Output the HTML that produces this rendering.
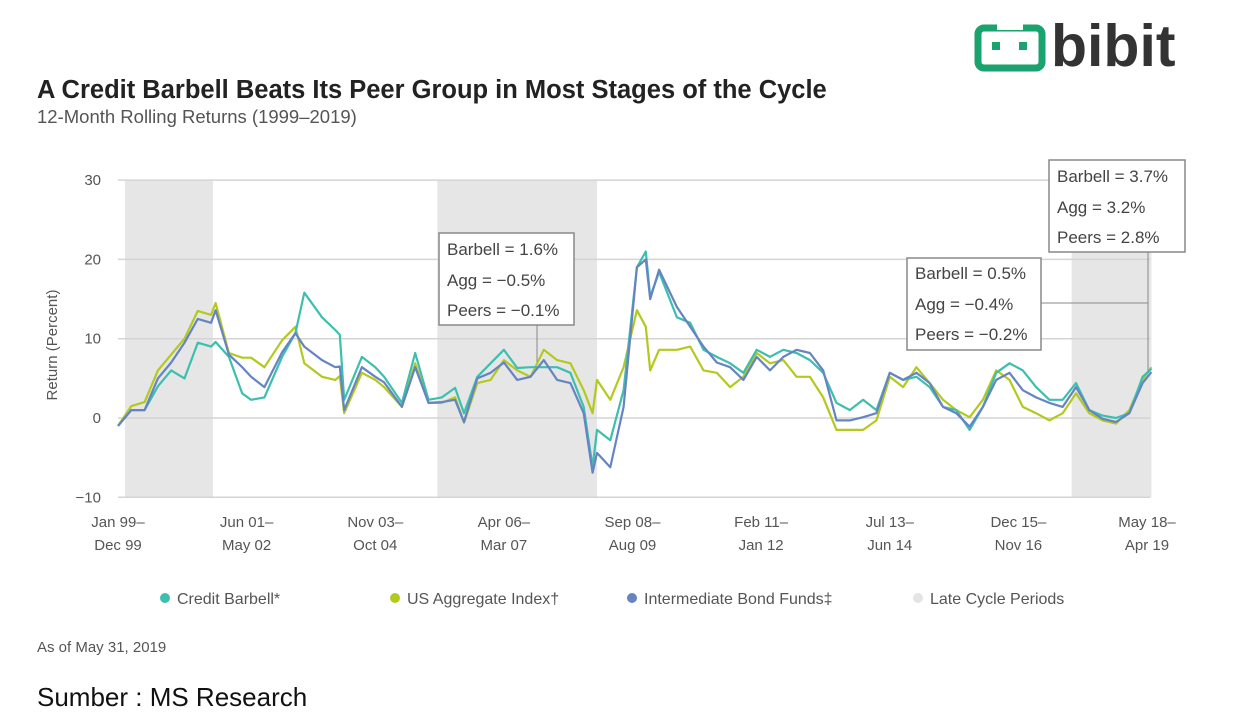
<!DOCTYPE html>
<html><head><meta charset="utf-8"><style>
body{margin:0;width:1233px;height:722px;background:#fff;overflow:hidden;font-family:"Liberation Sans",sans-serif;}
svg text{font-family:"Liberation Sans",sans-serif;}
</style></head><body>
<svg id="chart" width="1233" height="722">
<g>
<rect x="978" y="28" width="64" height="40" rx="6" fill="none" stroke="#1aa36f" stroke-width="7"/>
<rect x="997" y="24" width="26" height="6" fill="#fff"/>
<rect x="992" y="42" width="8" height="8" fill="#1aa36f"/><rect x="1019" y="42" width="8" height="8" fill="#1aa36f"/>
<text x="1051" y="66" font-size="59" font-weight="bold" fill="#333">bibit</text>
</g>
<text x="37" y="98" font-size="25.5" font-weight="bold" fill="#222">A Credit Barbell Beats Its Peer Group in Most Stages of the Cycle</text>
<text x="37" y="123" font-size="18.5" fill="#555">12-Month Rolling Returns (1999–2019)</text>
<g id="shade"></g><g id="grid"></g><g id="xlab"></g><g id="lines"></g>
<text transform="translate(57,345) rotate(-90)" text-anchor="middle" font-size="15" fill="#555">Return (Percent)</text>
<g font-size="17" fill="#444">
<line x1="537" y1="325" x2="537" y2="362" stroke="#888"/>
<rect x="439" y="233" width="135" height="92" fill="#fff" stroke="#888" stroke-width="1.5"/>
<text x="447" y="255">Barbell = 1.6%</text><text x="447" y="286">Agg = −0.5%</text><text x="447" y="316">Peers = −0.1%</text></g>
<g font-size="17" fill="#444">
<line x1="1148" y1="252" x2="1148" y2="372" stroke="#888"/><line x1="1041" y1="303" x2="1148" y2="303" stroke="#888"/>
<rect x="907" y="258" width="134" height="92" fill="#fff" stroke="#888" stroke-width="1.5"/>
<text x="915" y="279">Barbell = 0.5%</text><text x="915" y="310">Agg = −0.4%</text><text x="915" y="340">Peers = −0.2%</text>
<rect x="1049" y="160" width="136" height="92" fill="#fff" stroke="#888" stroke-width="1.5"/>
<text x="1057" y="182">Barbell = 3.7%</text><text x="1057" y="213">Agg = 3.2%</text><text x="1057" y="243">Peers = 2.8%</text></g>
<g id="legend" font-size="16" fill="#555"></g>
<text x="37" y="652" font-size="15" fill="#555">As of May 31, 2019</text>
<text x="37" y="706" font-size="26" fill="#111">Sumber : MS Research</text>
</svg>
<script>
const months=[0,3,6,9,12,15,18,21,22,25,28,30,33,37,40,42,46,49,50,51,55,58,60,64,67,70,73,76,78,81,84,87,90,93,96,99,102,105,107,108,111,114,117,119,120,122,126,129,132,135,138,141,144,147,150,153,156,159,162,165,168,171,174,177,180,183,186,189,192,195,198,201,204,207,210,213,216,219,222,225,228,231,233];
const barbell=[-1,1,1,4,6,5,9.5,9,9.6,7.7,3.1,2.3,2.6,7.7,10.7,15.8,12.7,11.1,10.5,2.3,7.7,6.4,5.2,1.9,8.2,2.3,2.6,3.8,0.6,5.2,6.9,8.6,6.3,6.4,6.4,6.4,5.7,1.4,-6.2,-1.5,-2.8,3.5,19,21,15.3,18.4,12.7,12,8.6,7.7,6.9,5.7,8.6,7.7,8.6,8.2,7.3,5.7,1.9,1,2.3,1,5.7,4.8,5.2,3.9,1.4,1,-1.5,1.4,5.7,6.9,6,3.9,2.3,2.3,4.4,1,0.3,0,0.6,5.2,6.2];
const agg=[-1,1.5,2,6,8,10,13.5,13,14.5,8.2,7.6,7.6,6.4,9.8,11.5,6.9,5.2,4.8,5.3,0.6,5.7,4.8,3.9,1.4,6.9,1.9,1.9,2.6,-0.6,4.4,4.8,7.3,6,5.2,8.6,7.3,6.9,3.5,0.6,4.8,2.3,6.4,13.6,11.5,6,8.6,8.6,9,6,5.7,3.9,5.2,8.2,6.9,7.3,5.2,5.2,2.6,-1.5,-1.5,-1.5,-0.3,5.2,3.9,6.4,4.4,2.3,1,0.1,2.3,6,4.8,1.4,0.6,-0.3,0.6,3.1,0.6,-0.3,-0.7,1,4.8,6.4];
const peers=[-1,1,1,5,7,9.5,12.5,12,13.6,8,6.4,5.2,3.9,8.3,10.7,9,7.3,6.4,6.5,1,6.4,5.2,4.5,1.4,6.4,1.9,2,2.3,-0.5,5,5.7,7,4.8,5.2,7.3,4.8,4.4,0.6,-6.9,-4.4,-6.2,1.4,19,20,15,18.7,14,11.5,9,7,6.4,4.8,7.7,6,7.7,8.6,8.2,6,-0.3,-0.3,0.1,0.6,5.7,4.8,5.7,4.4,1.4,0.6,-1.1,1.4,4.8,5.7,3.5,2.6,1.9,1.4,3.9,1,-0.1,-0.5,0.6,4.4,5.8];
const yTicks=[30,20,10,0,-10];
const xTickMonths=[0,29,58,87,116,145,174,203,232];
const xTickLine1=["Jan 99–","Jun 01–","Nov 03–","Apr 06–","Sep 08–","Feb 11–","Jul 13–","Dec 15–","May 18–"];
const xTickLine2=["Dec 99","May 02","Oct 04","Mar 07","Aug 09","Jan 12","Jun 14","Nov 16","Apr 19"];
const lateCycle=[[1.6,21.4],[72,108],[215,233]];
const NS="http://www.w3.org/2000/svg";
const X=m=>118+m*(1029/232);
const Y=v=>418-v*7.93;
function mk(tag,parent,attrs){const e=document.createElementNS(NS,tag);for(const k in attrs)e.setAttribute(k,attrs[k]);document.getElementById(parent).appendChild(e);return e;}
lateCycle.forEach(p=>{const r=mk('rect','shade',{x:X(p[0]),y:Y(30),width:X(p[1])-X(p[0]),height:Y(-10)-Y(30),fill:'#e6e6e6'});

});
yTicks.forEach(t=>{const l=mk('line','grid',{x1:118,x2:1150,y1:Y(t),y2:Y(t),stroke:'#d4d4d4','stroke-width':1.5});


const tx=mk('text','grid',{x:101,y:Y(t)+5,'text-anchor':'end','font-size':15,fill:'#555'});tx.textContent=t===-10?'−10':t;

});
xTickMonths.forEach((m,i)=>{const a=mk('text','xlab',{x:X(m),y:527,'text-anchor':'middle','font-size':15,fill:'#555'});a.textContent=xTickLine1[i];


const b=mk('text','xlab',{x:X(m),y:550,'text-anchor':'middle','font-size':15,fill:'#555'});b.textContent=xTickLine2[i];

});
[[agg,'#b4c91d','series-us-aggregate'],[barbell,'#3dbfae','series-credit-barbell'],[peers,'#6683c2','series-intermediate-bond-funds']].forEach(s=>{
const d=s[0].map((v,i)=>(i?'L':'M')+X(months[i]).toFixed(1)+' '+Y(v).toFixed(1)).join(' ');
const p=mk('path','lines',{d:d,fill:'none',stroke:s[1],'stroke-width':2.2,'stroke-linejoin':'round'});

});
const legNames=["Credit Barbell*","US Aggregate Index†","Intermediate Bond Funds‡","Late Cycle Periods"];
const legColors=['#3dbfae','#b4c91d','#6683c2','#e4e4e4'];
const legX=[165,395,632,918];
legNames.forEach((n,i)=>{const c=mk('circle','legend',{cx:legX[i],cy:598,r:5,fill:legColors[i]});


const t=mk('text','legend',{x:legX[i]+12,y:604});t.textContent=n;

});
</script>
</body></html>
